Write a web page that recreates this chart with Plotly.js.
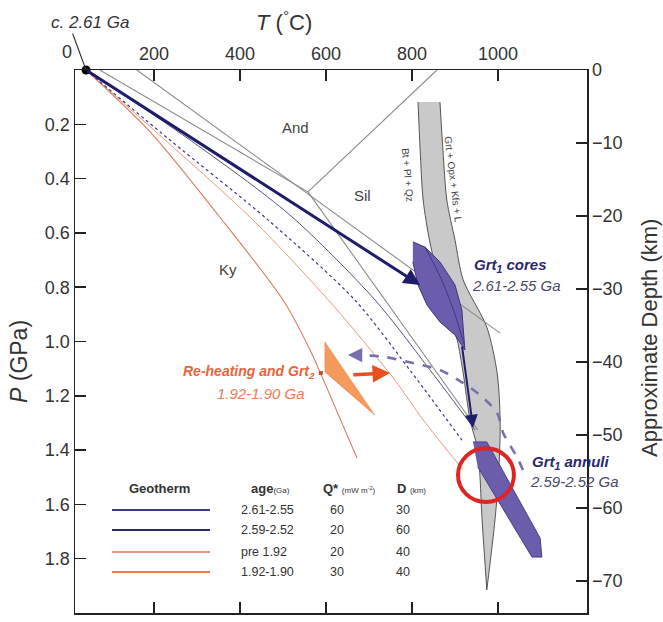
<!DOCTYPE html>
<html>
<head>
<meta charset="utf-8">
<script src="https://cdn.plot.ly/plotly-3.0.1.min.js"></script>
<style>html,body{margin:0;padding:0;background:#fff;}#chart{width:663px;height:622px;}</style>
</head>
<body>
<div id="chart"></div>
<script>
// ---------- axis ticks ----------
const T_ticks = [200, 400, 600, 800, 1000];
const P_ticks = [0.2, 0.4, 0.6, 0.8, 1.0, 1.2, 1.4, 1.6, 1.8, 2.0];
const depth_ticks = [0, -10, -20, -30, -40, -50, -60, -70];
const T_range = [16.3, 1207];
const P_range = [2.0, 0];
const depth_range = [-74.4, 0];

// ---------- start point (c. 2.61 Ga) ----------
const start_T = [42];
const start_P = [0];

// ---------- grey phase boundaries ----------
const greyA_T = [160, 1005];        const greyA_P = [0, 0.969];
const andKy_T = [74, 558];          const andKy_P = [0, 0.449];
const andSil_T = [558, 858];        const andSil_P = [0.449, 0];
const kySil_T = [558, 953];         const kySil_P = [0.449, 1.326];

// ---------- geotherms ----------
const geoO1_T = [42, 191, 349, 500, 563, 614, 672];
const geoO1_P = [0, 0.228, 0.534, 0.847, 1.031, 1.215, 1.429];
const geoO2_T = [42, 226, 430, 616, 760, 826, 919];
const geoO2_P = [0, 0.258, 0.552, 0.866, 1.142, 1.289, 1.473];
const geoNdot_T = [42, 237, 465, 667, 795, 916];
const geoNdot_P = [0, 0.258, 0.552, 0.847, 1.105, 1.363];
const geoN_T = [42, 284, 516, 714, 842, 947];
const geoN_P = [0, 0.258, 0.534, 0.847, 1.105, 1.326];

// ---------- melting band (Bt + Pl + Qz / Grt + Opx + Kfs + L) ----------
const bandLeft_T = [814, 819, 826, 842, 881, 905, 919, 935, 953, 963, 974];
const bandLeft_P = [0.118, 0.295, 0.479, 0.637, 0.884, 0.994, 1.116, 1.289, 1.400, 1.657, 1.915];
const bandRight_T = [865, 872, 881, 900, 919, 974, 998, 1005, 1002, 993, 974];
const bandRight_P = [0.118, 0.295, 0.479, 0.626, 0.773, 0.947, 1.116, 1.289, 1.473, 1.657, 1.915];

// ---------- garnet fields ----------
const cores_T = [802, 830, 865, 900, 916, 923, 900, 865, 835, 814, 802];
const cores_P = [0.633, 0.652, 0.707, 0.792, 0.884, 1.031, 0.976, 0.928, 0.866, 0.792, 0.707];
const coresInner_T = [830, 868, 900, 921];
const coresInner_P = [0.652, 0.770, 0.900, 1.010];
const annuli_T = [942, 974, 1098, 1102, 1079, 953];
const annuli_P = [1.370, 1.370, 1.724, 1.794, 1.794, 1.462];
const reheat_T = [598, 598, 714];
const reheat_P = [1.001, 1.112, 1.271];
const reheatDot_T = [588];
const reheatDot_P = [1.116];

// ---------- P-T paths ----------
const path1 = {tailT: 42, tailP: 0, headT: 819, headP: 0.792};
const path2 = {tailT: 916, tailP: 1.013, headT: 942, headP: 1.318};
const dash_T = [1058, 1044, 1012, 998, 958, 919, 865, 802, 737, 680];
const dash_P = [1.473, 1.425, 1.337, 1.263, 1.197, 1.153, 1.105, 1.079, 1.057, 1.050];
const dashHead = {T: 651, P: 1.050};
const heatArrow = {tailT: 660, tailP: 1.123, headT: 749, headP: 1.116};
const circle = {T: 972, P: 1.492, rT: 65, rP: 0.099};

// ---------- legend table ----------
const legAges = ['2.61-2.55', '2.59-2.52', 'pre 1.92', '1.92-1.90'];
const legQ = ['60', '20', '20', '30'];
const legD = ['30', '60', '40', '40'];
const legColors = ['#3c3c86', '#2c2c6c', '#e29a78', '#f07a40'];

const FONT = 'Liberation Sans, Arial, Helvetica, sans-serif';

function line(T, P, color, width, dash, shape) {
  return {x: T, y: P, type: 'scatter', mode: 'lines', hoverinfo: 'skip', showlegend: false,
          line: {color: color, width: width, dash: dash || 'solid', shape: shape || 'linear', smoothing: 0.8}};
}
function poly(T, P, fill, lineColor, lw) {
  return {x: T, y: P, type: 'scatter', mode: 'lines', fill: 'toself', fillcolor: fill,
          hoverinfo: 'skip', showlegend: false, line: {color: lineColor, width: lw}};
}

const bandT = bandLeft_T.concat(bandRight_T.slice().reverse());
const bandP = bandLeft_P.concat(bandRight_P.slice().reverse());

const traces = [
  {x: bandT, y: bandP, type: 'scatter', mode: 'lines', fill: 'toself', fillcolor: '#c9c9c9',
   line: {color: 'rgba(0,0,0,0)', width: 0, shape: 'spline', smoothing: 0.6}, hoverinfo: 'skip', showlegend: false},
  line(bandLeft_T, bandLeft_P, '#555', 1, 'solid', 'spline'),
  line(bandRight_T, bandRight_P, '#555', 1, 'solid', 'spline'),
  line(greyA_T, greyA_P, '#8a8a8a', 1.1),
  line(andKy_T, andKy_P, '#8a8a8a', 1.1),
  line(andSil_T, andSil_P, '#8a8a8a', 1.1),
  line(kySil_T, kySil_P, '#8a8a8a', 1.1),
  line(geoO1_T, geoO1_P, '#dd7a62', 1.1, 'solid', 'spline'),
  line(geoO2_T, geoO2_P, '#eb9a80', 1.0, 'solid', 'spline'),
  line(geoNdot_T, geoNdot_P, '#3a3a80', 1.2, 'dot', 'spline'),
  line(geoN_T, geoN_P, '#55557a', 1.0, 'solid', 'spline'),
  poly(cores_T, cores_P, '#6b5dab', '#3e3480', 1),
  line(coresInner_T, coresInner_P, '#43387f', 1, 'solid', 'spline'),
  poly(annuli_T, annuli_P, '#6b5dab', '#4a3f8a', 1),
  poly(reheat_T, reheat_P, '#f39a5c', '#ee8a48', 1),
  line(dash_T, dash_P, '#7770ad', 2.6, 'dash', 'spline'),
  {x: reheatDot_T, y: reheatDot_P, type: 'scatter', mode: 'markers', marker: {symbol: 'square', size: 4, color: '#c8502a'},
   hoverinfo: 'skip', showlegend: false},
  {x: start_T, y: start_P, type: 'scatter', mode: 'markers', marker: {size: 9, color: '#000'}, cliponaxis: false,
   hoverinfo: 'skip', showlegend: false},
  {x: [500], y: [-30], yaxis: 'y2', type: 'scatter', mode: 'markers', marker: {opacity: 0}, hoverinfo: 'skip', showlegend: false}
];

function px(x) { return (x - 75) / 512; }     // page px -> paper x (label placement)
function py(y) { return (613 - y) / 543; }    // page px -> paper y

const ann = [];
function arrow(a, color, width, size) {
  ann.push({x: a.headT, y: a.headP, ax: a.tailT, ay: a.tailP, xref: 'x', yref: 'y', axref: 'x', ayref: 'y',
            text: '', showarrow: true, arrowhead: 2, arrowsize: size, arrowwidth: width, arrowcolor: color, standoff: 0});
}
arrow(path1, '#1f1c6b', 3, 1.1);
arrow(path2, '#1f1c6b', 2, 1.3);
arrow({tailT: dash_T[dash_T.length - 1], tailP: dash_P[dash_P.length - 1], headT: dashHead.T, headP: dashHead.P}, '#7770ad', 2.6, 1.1);
arrow(heatArrow, '#e8501e', 3.5, 1.0);

ann.push({x: start_T[0], y: start_P[0], xref: 'x', yref: 'y', ax: -14, ay: -38, text: '', showarrow: true,
          arrowhead: 0, arrowwidth: 1.1, arrowcolor: '#333'});

function txt(text, x, y, opts) {
  ann.push(Object.assign({text: text, x: x, y: y, xref: 'paper', yref: 'paper', showarrow: false,
    xanchor: 'center', yanchor: 'middle',
    font: {family: FONT, size: 14, color: '#333'}}, opts || {}));
}
txt('<i>c. 2.61 Ga</i>', px(90), py(22), {font: {family: FONT, size: 17, color: '#333'}});
txt('<i>T</i> (<sup>°</sup>C)', px(284), py(21), {font: {family: FONT, size: 22, color: '#333'}});
txt('0', px(67), py(52), {font: {family: FONT, size: 18, color: '#333'}});
txt('<i>P</i> (GPa)', px(19), py(362), {textangle: -90, font: {family: FONT, size: 23, color: '#333'}});
txt('Approximate Depth (km)', px(649), py(338), {textangle: -90, font: {family: FONT, size: 22, color: '#333'}});

function dtxt(text, T, P, opts) {
  ann.push(Object.assign({text: text, x: T, y: P, xref: 'x', yref: 'y', showarrow: false,
    xanchor: 'center', yanchor: 'middle',
    font: {family: FONT, size: 15, color: '#444'}}, opts || {}));
}
dtxt('And', 528, 0.210);
dtxt('Sil', 686, 0.464);
dtxt('Ky', 372, 0.736);
dtxt('Bt + Pl + Qz', 791, 0.387, {textangle: 85, font: {family: FONT, size: 10, color: '#444'}});
dtxt('Grt + Opx + Kfs + L', 895, 0.405, {textangle: 83, font: {family: FONT, size: 10, color: '#444'}});
dtxt('<b><i>Grt<sub>1</sub> cores</i></b>', 940, 0.720, {xanchor: 'left', font: {family: FONT, size: 15, color: '#2a2870'}});
dtxt('<i>2.61-2.55 Ga</i>', 935, 0.792, {xanchor: 'left', font: {family: FONT, size: 15, color: '#4a4a6a'}});
dtxt('<b><i>Grt<sub>1</sub> annuli</i></b>', 1074, 1.444, {xanchor: 'left', font: {family: FONT, size: 15, color: '#2a2870'}});
dtxt('<i>2.59-2.52 Ga</i>', 1070, 1.517, {xanchor: 'left', font: {family: FONT, size: 15, color: '#4a4a6a'}});
dtxt('<b><i>Re-heating and Grt<sub>2</sub></i></b>', 579, 1.112, {xanchor: 'right', font: {family: FONT, size: 14, color: '#e8643c'}});
dtxt('<i>1.92-1.90 Ga</i>', 556, 1.190, {xanchor: 'right', font: {family: FONT, size: 15, color: '#ef7a56'}});

const tf = {family: FONT, size: 12.5, color: '#333'};
const rowsY = [510, 530, 552, 572];
txt('<b>Geotherm</b>', px(159), py(488), {font: {family: FONT, size: 13, color: '#333'}});
txt('<b>age</b><span style="font-size:8px">(Ga)</span>', px(270), py(488), {font: {family: FONT, size: 13, color: '#333'}});
txt('<b>Q*</b> <span style="font-size:8px">(mW m<sup>-2</sup>)</span>', px(349), py(488), {font: {family: FONT, size: 13, color: '#333'}});
txt('<b>D</b> <span style="font-size:8px">(km)</span>', px(411), py(488), {font: {family: FONT, size: 13, color: '#333'}});
const shapes = [];
for (let i = 0; i < legAges.length; i++) {
  shapes.push({type: 'line', xref: 'paper', yref: 'paper', x0: px(112), x1: px(210), y0: py(rowsY[i]), y1: py(rowsY[i]),
               line: {color: legColors[i], width: 2}});
  txt(legAges[i], px(239), py(rowsY[i]), {xanchor: 'left', font: tf});
  txt(legQ[i], px(337), py(rowsY[i]), {font: tf});
  txt(legD[i], px(403), py(rowsY[i]), {font: tf});
}
shapes.push({type: 'circle', xref: 'x', yref: 'y', x0: circle.T - circle.rT, x1: circle.T + circle.rT,
             y0: circle.P - circle.rP, y1: circle.P + circle.rP, line: {color: '#e02424', width: 4}});

const axisCommon = {showgrid: false, zeroline: false, showline: true, linecolor: '#222', linewidth: 1.5,
                    ticks: 'inside', ticklen: 11, tickwidth: 1.5, tickcolor: '#222',
                    tickfont: {family: FONT, size: 18, color: '#333'}};

const layout = {
  width: 663, height: 622,
  margin: {l: 75, r: 76, t: 70, b: 9},
  paper_bgcolor: '#fff', plot_bgcolor: '#fff',
  showlegend: false,
  xaxis: Object.assign({}, axisCommon, {range: T_range, side: 'top', tickvals: T_ticks, mirror: 'ticks', ticklabelstandoff: 1}),
  yaxis: Object.assign({}, axisCommon, {range: P_range, tickvals: P_ticks, tickformat: '.1f'}),
  yaxis2: Object.assign({}, axisCommon, {range: depth_range, tickvals: depth_ticks, overlaying: 'y', side: 'right', tickformat: 'd'}),
  annotations: ann,
  shapes: shapes
};

Plotly.newPlot('chart', traces, layout, {staticPlot: true, displayModeBar: false});
</script>
</body>
</html>
